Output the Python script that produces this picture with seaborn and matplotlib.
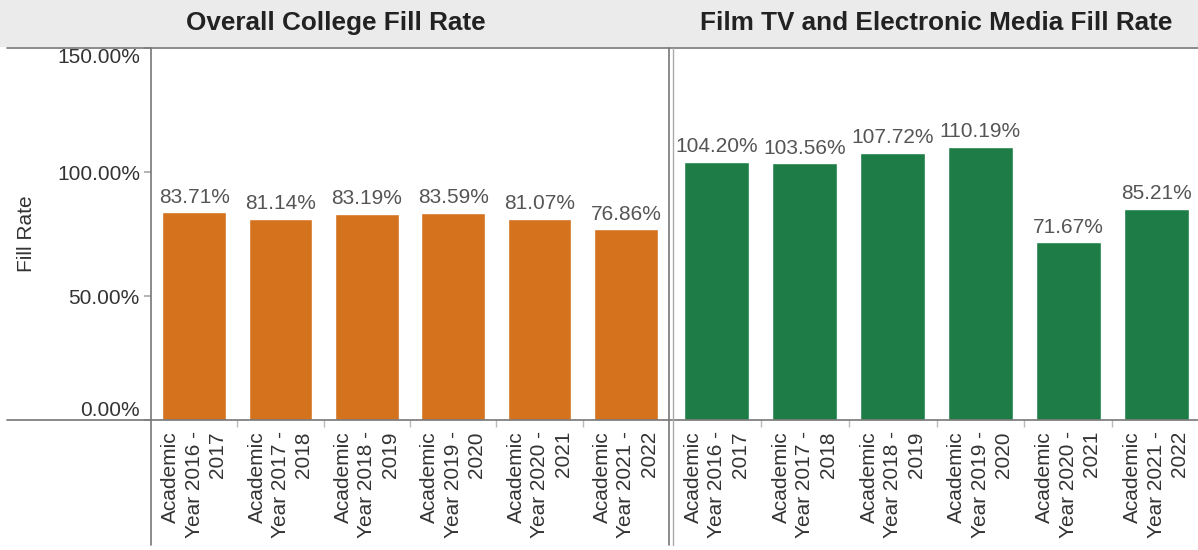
import matplotlib.pyplot as plt
import seaborn as sns
import pandas as pd
from matplotlib.lines import Line2D
from matplotlib.patches import Rectangle

# data
years = ["2016 - 2017", "2017 - 2018", "2018 - 2019", "2019 - 2020", "2020 - 2021", "2021 - 2022"]
college_rate = [83.71, 81.14, 83.19, 83.59, 81.07, 76.86]
ftv_rate = [104.20, 103.56, 107.72, 110.19, 71.67, 85.21]
panel_titles = ["Overall College Fill Rate", "Film TV and Electronic Media Fill Rate"]
y_ticks = [0, 50, 100, 150]

orange = "#D4721D"
green = "#1E7D47"

sns.set_theme(style="white")
plt.rcParams['font.family'] = ['Liberation Sans', 'DejaVu Sans']

W, H = 1198, 550
fig = plt.figure(figsize=(W / 100, H / 100), dpi=100)


def box(x0, x1, y0, y1):
    return [x0 / W, 1 - y1 / H, (x1 - x0) / W, (y1 - y0) / H]


# header band
fig.patches.append(Rectangle((0, 1 - 47 / H), 1, 47 / H, transform=fig.transFigure,
                             facecolor="#ebebeb", edgecolor="none", zorder=0))
fig.text(336 / W, 1 - 23 / H, panel_titles[0], ha="center", va="center",
         fontsize=18.8, fontweight="bold", color="#222222")
fig.text(936 / W, 1 - 23 / H, panel_titles[1], ha="center", va="center",
         fontsize=18.8, fontweight="bold", color="#222222")

ax1 = fig.add_axes(box(151, 669, 48, 420))
ax2 = fig.add_axes(box(673, 1200, 48, 420))

labels = ["Academic\nYear " + y.replace(" - ", " -\n") for y in years]
df = pd.DataFrame({"year": labels, "college": college_rate, "ftv": ftv_rate})

for ax, col, color in [(ax1, "college", orange), (ax2, "ftv", green)]:
    sns.barplot(data=df, x="year", y=col, color=color, saturation=1, width=0.74, ax=ax)
    ax.bar_label(ax.containers[0], labels=[f"{v:.2f}%" for v in df[col]],
                 padding=4, fontsize=15, color="#555555")
    ax.set_ylim(0, 150)
    ax.set_xlim(-0.5, 5.5)
    ax.set_xlabel("")
    ax.set_ylabel("")
    for s in ax.spines.values():
        s.set_visible(False)
    ax.set_xticks(range(len(labels)))
    ax.set_xticklabels(labels, rotation=90, ha="center", va="top",
                       multialignment="right", linespacing=1.3,
                       fontsize=15, color="#333333")
    ax.set_xticks([i + 0.5 for i in range(len(labels) - 1)], minor=True)
    ax.tick_params(axis="x", which="major", length=0, pad=8)
    ax.tick_params(axis="x", which="minor", length=5, color="#bbbbbb", bottom=True)
    ax.patch.set_alpha(0)

ax1.set_yticks(y_ticks)
ax1.set_yticklabels([f"{t:.2f}%" for t in y_ticks], fontsize=15, color="#333333")
ax1.tick_params(axis="y", length=5, color="#aaaaaa", left=True, pad=3)
ylabs = ax1.get_yticklabels()
ylabs[0].set_va("bottom")
ylabs[-1].set_va("top")
ax1.set_ylabel("Fill Rate", fontsize=15, color="#333333")
ax1.yaxis.set_label_coords((36 - 151) / 518, 0.5)
ax2.set_yticks([])

# rule lines
line_kw = dict(transform=fig.transFigure, color="#777777", linewidth=1.2)
fig.lines.append(Line2D([7 / W, 1], [1 - 48 / H, 1 - 48 / H], **line_kw))
fig.lines.append(Line2D([7 / W, 1], [1 - 420 / H, 1 - 420 / H], **line_kw))
fig.lines.append(Line2D([151 / W, 151 / W], [0.01, 1 - 48 / H], **line_kw))
fig.lines.append(Line2D([669 / W, 669 / W], [0.01, 1 - 48 / H], **line_kw))
fig.lines.append(Line2D([673 / W, 673 / W], [0.01, 1 - 48 / H],
                        transform=fig.transFigure, color="#aaaaaa", linewidth=1))

fig.savefig("out.png", dpi=100)
